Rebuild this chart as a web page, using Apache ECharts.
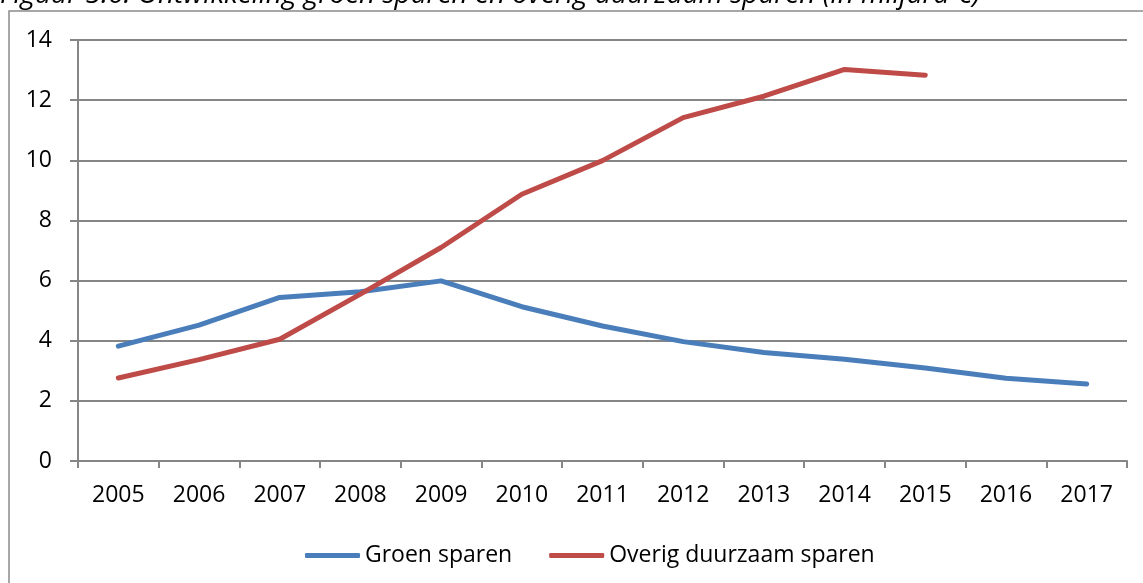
<!DOCTYPE html>
<html>
<head>
<meta charset="utf-8">
<title>Groen sparen en overig duurzaam sparen</title>
<script src="https://cdn.jsdelivr.net/npm/echarts@6/dist/echarts.min.js"></script>
<style>
  html, body { margin: 0; padding: 0; background: #fff; }
  #chart { width: 1143px; height: 583px; }
</style>
</head>
<body>
<div id="chart"></div>
<script>
// jaren op de x-as
var years = ['2005', '2006', '2007', '2008', '2009', '2010', '2011', '2012', '2013', '2014', '2015', '2016', '2017'];
// miljard euro
var groenSparen = [3.82, 4.52, 5.44, 5.63, 5.99, 5.13, 4.49, 3.97, 3.61, 3.38, 3.09, 2.75, 2.56];
var overigDuurzaam = [2.76, 3.37, 4.05, 5.55, 7.1, 8.87, 9.99, 11.42, 12.13, 13.02, 12.83, null, null];
var yTicks = [0, 2, 4, 6, 8, 10, 12, 14];

var titleText = 'Figuur 5.6: Ontwikkeling groen sparen en overig duurzaam sparen (in miljard €)';
var fontName = '"Open Sans", sans-serif';
var gridGray = '#868686';

var chart = echarts.init(document.getElementById('chart'));

chart.setOption({
  animation: false,
  textStyle: { fontFamily: fontName },
  graphic: [
    {
      type: 'text',
      left: 0,
      top: -19,
      style: {
        text: titleText,
        font: 'italic 28px ' + fontName,
        fill: '#000'
      }
    },
    {
      type: 'rect',
      shape: { x: 9, y: 11, width: 1300, height: 800 },
      style: { fill: 'none', stroke: '#8a8a8a', lineWidth: 1.5 },
      silent: true
    }
  ],
  grid: {
    left: 78,
    right: 16,
    top: 40,
    bottom: 122,
    containLabel: false
  },
  xAxis: {
    type: 'category',
    data: years,
    boundaryGap: true,
    axisLine: { lineStyle: { color: gridGray, width: 2 } },
    axisTick: { show: true, length: 7, lineStyle: { color: gridGray, width: 2 } },
    axisLabel: { color: '#000', fontSize: 23, margin: 23, fontFamily: fontName }
  },
  yAxis: {
    type: 'value',
    min: yTicks[0],
    max: yTicks[yTicks.length - 1],
    interval: 2,
    axisLine: { show: true, lineStyle: { color: gridGray, width: 2 } },
    axisTick: { show: true, length: 8, lineStyle: { color: gridGray, width: 2 } },
    axisLabel: { color: '#000', fontSize: 23, margin: 26, fontFamily: fontName },
    splitLine: { show: true, lineStyle: { color: gridGray, width: 2 } }
  },
  legend: {
    left: 300,
    top: 539,
    icon: 'roundRect',
    itemWidth: 55,
    itemHeight: 5,
    itemGap: 37,
    textStyle: { color: '#000', fontSize: 23, fontFamily: fontName },
    data: ['Groen sparen', 'Overig duurzaam sparen']
  },
  series: [
    {
      name: 'Groen sparen',
      type: 'line',
      data: groenSparen,
      symbol: 'none',
      color: '#4a7ebb',
      lineStyle: { width: 5, color: '#4a7ebb', cap: 'round', join: 'round' }
    },
    {
      name: 'Overig duurzaam sparen',
      type: 'line',
      data: overigDuurzaam,
      symbol: 'none',
      color: '#be4b48',
      lineStyle: { width: 5, color: '#be4b48', cap: 'round', join: 'round' }
    }
  ]
});
</script>
</body>
</html>
